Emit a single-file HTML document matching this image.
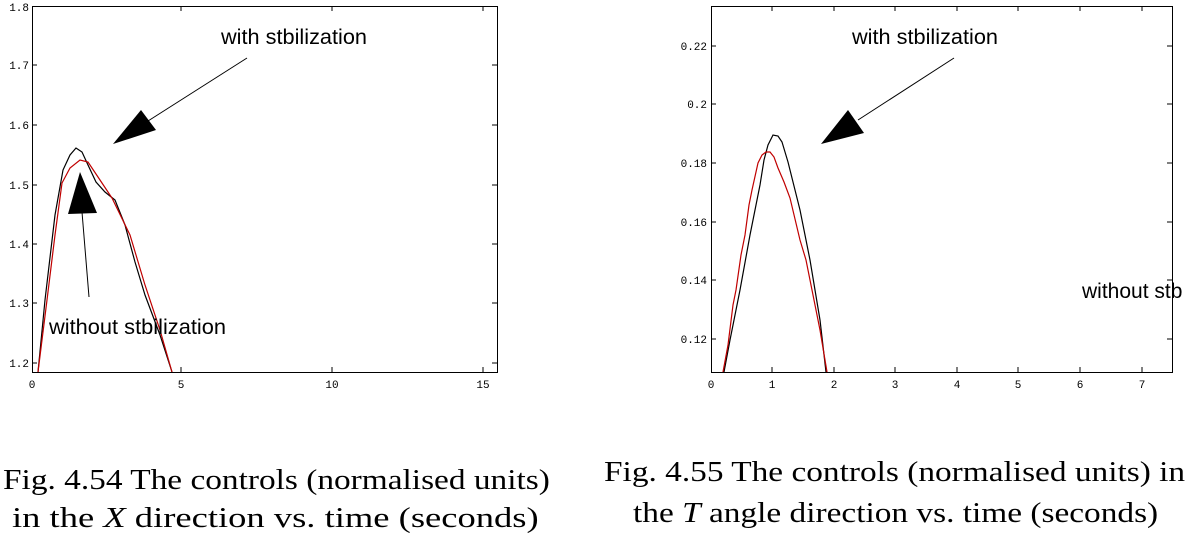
<!DOCTYPE html>
<html><head><style>
body{margin:0;width:1187px;height:539px;background:#fff;overflow:hidden;position:relative}
.cap{position:absolute;font-family:"Liberation Serif",serif;font-size:29px;white-space:nowrap;color:#000;transform-origin:0 0}
</style></head><body>
<svg width="1187" height="539" style="position:absolute;left:0;top:0" font-family="Liberation Sans, sans-serif">
<g stroke="#000" fill="none" stroke-width="1">
<rect x="32.5" y="6.5" width="465" height="366"/>
<rect x="711.5" y="6.5" width="461" height="366"/>
</g>
<g stroke="#000" stroke-width="1">
<path d="M32 65h5M32 125h5M32 185h5M32 244h5M32 303h5M32 363h5M497 65h-5M497 125h-5M497 185h-5M497 244h-5M497 303h-5M497 363h-5M181 372v-5M332 372v-5M483 372v-5M181 6v5M332 6v5M483 6v5"/>
<path d="M711 46h5M711 104h5M711 163h5M711 222h5M711 280h5M711 339h5M1172 46h-5M1172 104h-5M1172 163h-5M1172 222h-5M1172 280h-5M1172 339h-5M772 372v-5M834 372v-5M895 372v-5M957 372v-5M1018 372v-5M1080 372v-5M1142 372v-5M772 6v5M834 6v5M895 6v5M957 6v5M1018 6v5M1080 6v5M1142 6v5"/>
</g>
<g font-size="11" fill="#000" font-family="Liberation Mono, monospace">
<text x="29" y="11" text-anchor="end">1.8</text>
<text x="29" y="69" text-anchor="end">1.7</text>
<text x="29" y="129" text-anchor="end">1.6</text>
<text x="29" y="189" text-anchor="end">1.5</text>
<text x="29" y="248" text-anchor="end">1.4</text>
<text x="29" y="307" text-anchor="end">1.3</text>
<text x="29" y="367" text-anchor="end">1.2</text>
<text x="32" y="388" text-anchor="middle">0</text>
<text x="181" y="388" text-anchor="middle">5</text>
<text x="332" y="388" text-anchor="middle">10</text>
<text x="483" y="388" text-anchor="middle">15</text>
<text x="707" y="50" text-anchor="end">0.22</text>
<text x="707" y="108" text-anchor="end">0.2</text>
<text x="707" y="167" text-anchor="end">0.18</text>
<text x="707" y="226" text-anchor="end">0.16</text>
<text x="707" y="284" text-anchor="end">0.14</text>
<text x="707" y="343" text-anchor="end">0.12</text>
<text x="711" y="388" text-anchor="middle">0</text>
<text x="772" y="388" text-anchor="middle">1</text>
<text x="834" y="388" text-anchor="middle">2</text>
<text x="895" y="388" text-anchor="middle">3</text>
<text x="957" y="388" text-anchor="middle">4</text>
<text x="1018" y="388" text-anchor="middle">5</text>
<text x="1080" y="388" text-anchor="middle">6</text>
<text x="1142" y="388" text-anchor="middle">7</text>
</g>
<g fill="none" stroke-width="1.2">
<polyline stroke="#000" points="38,372 45,300 55,215 63,170 70,155 76,148 82,152 88,165 96,182 105,192 115,200 125,225 135,262 145,295 160,335 172,372"/>
<polyline stroke="#c00000" points="38,372 47,300 55,235 62,183 70,168 80,160 88,162 100,180 112,198 130,235 145,285 160,330 172,372"/>
<polyline stroke="#000" points="724,372 730,340 740,290 750,235 756,205 760,185 764,160 768,145 773,135 778,136 782,142 788,162 795,190 800,210 810,260 820,320 826,372"/>
<polyline stroke="#c00000" points="723,372 728,345 733,305 736,290 741,255 745,235 749,205 752,190 758,163 762,155 766,152 770,152 774,157 778,168 784,182 790,198 800,240 806,260 812,290 820,330 827,372"/>
</g>
<g stroke="#000" stroke-width="1">
<line x1="247" y1="58" x2="148" y2="121"/>
<line x1="89" y1="297" x2="82" y2="212"/>
<line x1="954" y1="58" x2="858" y2="120"/>
</g>
<g fill="#000">
<polygon points="141,110 156,130 113,144"/>
<polygon points="80,172 97,213 68,214"/>
<polygon points="848,110 864,133 821,144"/>
</g>
<g font-size="21" fill="#000">
<text x="221" y="44" textLength="146" lengthAdjust="spacingAndGlyphs">with stbilization</text>
<text x="49" y="334" textLength="177" lengthAdjust="spacingAndGlyphs">without stbilization</text>
<text x="852" y="44" textLength="146" lengthAdjust="spacingAndGlyphs">with stbilization</text>
<text x="1082" y="298">without stb</text>
</g>
</svg>
<div class="cap" style="left:3px;top:464px;transform:scaleX(1.15)">Fig. 4.54 The controls (normalised units)</div>
<div class="cap" style="left:12px;top:502px;transform:scaleX(1.26)">in the <i>X</i> direction vs. time (seconds)</div>
<div class="cap" style="left:604px;top:456px;transform:scaleX(1.15)">Fig. 4.55 The controls (normalised units) in</div>
<div class="cap" style="left:633px;top:497px;transform:scaleX(1.15)">the <i>T</i> angle direction vs. time (seconds)</div>
</body></html>
